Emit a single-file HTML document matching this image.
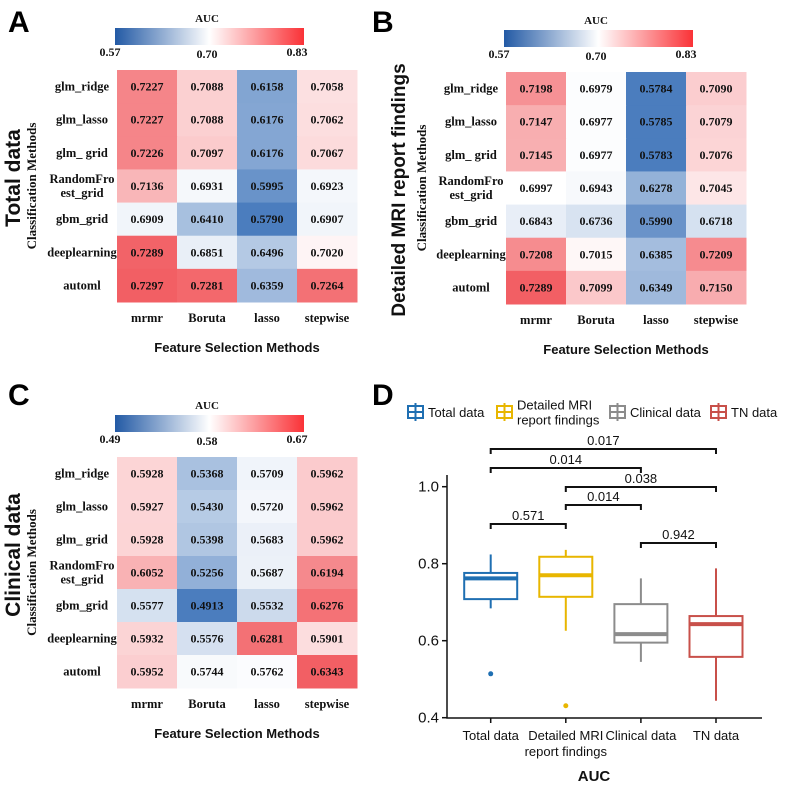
<!DOCTYPE html>
<html><head><meta charset="utf-8"><style>
body{margin:0;background:#fff}
svg{display:block}
.ser{font-family:"Liberation Serif",serif;font-weight:bold}
.san{font-family:"Liberation Sans",sans-serif}
</style></head><body>
<svg id="fig" width="788" height="788" viewBox="0 0 788 788">
<defs>
<linearGradient id="cbar" x1="0" x2="1" y1="0" y2="0">
<stop offset="0" stop-color="rgb(35,90,165)"/><stop offset="0.5" stop-color="#ffffff"/><stop offset="1" stop-color="rgb(250,50,55)"/>
</linearGradient>
</defs>
</svg>
<script>
const rowsA = ["glm_ridge","glm_lasso","glm_ grid","RandomFro|est_grid","gbm_grid","deeplearning","automl"];
const colsA = ["mrmr","Boruta","lasso","stepwise"];
const valuesA = [[0.7227,0.7088,0.6158,0.7058],[0.7227,0.7088,0.6176,0.7062],[0.7226,0.7097,0.6176,0.7067],[0.7136,0.6931,0.5995,0.6923],[0.6909,0.6410,0.5790,0.6907],[0.7289,0.6851,0.6496,0.7020],[0.7297,0.7281,0.6359,0.7264]];
const valuesB = [[0.7198,0.6979,0.5784,0.7090],[0.7147,0.6977,0.5785,0.7079],[0.7145,0.6977,0.5783,0.7076],[0.6997,0.6943,0.6278,0.7045],[0.6843,0.6736,0.5990,0.6718],[0.7208,0.7015,0.6385,0.7209],[0.7289,0.7099,0.6349,0.7150]];
const valuesC = [[0.5928,0.5368,0.5709,0.5962],[0.5927,0.5430,0.5720,0.5962],[0.5928,0.5398,0.5683,0.5962],[0.6052,0.5256,0.5687,0.6194],[0.5577,0.4913,0.5532,0.6276],[0.5932,0.5576,0.6281,0.5901],[0.5952,0.5744,0.5762,0.6343]];
const cbarTicksA = ["0.57","0.70","0.83"];
const cbarTicksB = ["0.57","0.70","0.83"];
const cbarTicksC = ["0.49","0.58","0.67"];
const midA = 0.70, midB = 0.70, midC = 0.578;

const groups = ["Total data","Detailed MRI|report findings","Clinical data","TN data"];
const whiskLow = [0.684,0.626,0.545,0.444];
const q1 = [0.708,0.714,0.595,0.558];
const medians = [0.762,0.770,0.617,0.643];
const q3 = [0.776,0.818,0.695,0.664];
const whiskHigh = [0.824,0.836,0.762,0.788];
const outliers = [[0.514],[0.431],[],[]];
const brackets = [[0,3,"0.017",449],[0,2,"0.014",468],[1,3,"0.038",487],[1,2,"0.014",505],[0,1,"0.571",524],[2,3,"0.942",543]];
const yTicks = [0.4,0.6,0.8,1.0];
const colors = ["#1f6fb2","#e8b600","#8c8c8c","#c8504a"];

const NS="http://www.w3.org/2000/svg";
const svg=document.getElementById('fig');
function mk(tag,attrs,parent,text){const e=document.createElementNS(NS,tag);for(const k in attrs)e.setAttribute(k,attrs[k]);if(text!==undefined)e.textContent=text;(parent||svg).appendChild(e);return e;}

function cellColor(v,mid,mn,mx){
  if(v<mid){const t=Math.min(1,(mid-v)/(mid-mn));return `rgb(${Math.round(255-t*180)},${Math.round(255-t*130)},${Math.round(255-t*65)})`;}
  const t=Math.min(1,(v-mid)/(mx-mid));return `rgb(${Math.round(255-t*13)},${Math.round(255-t*160)},${Math.round(255-t*155)})`;
}

function heatmap(cfg){
  const g=mk('g',{});
  
  
  const flat=cfg.values.flat();const mn=Math.min(...flat),mx=Math.max(...flat);
  const cw=(cfg.x1-cfg.x0)/cfg.cols.length, ch=(cfg.y1-cfg.y0)/cfg.rows.length;
  cfg.values.forEach((row,i)=>row.forEach((v,j)=>{
    const r=mk('rect',{x:cfg.x0+j*cw,y:cfg.y0+i*ch,width:cw+0.5,height:ch+0.5,fill:cellColor(v,cfg.mid,mn,mx)},g);
    
    
    const t=mk('text',{x:cfg.x0+(j+0.5)*cw,y:cfg.y0+(i+0.5)*ch+4,'text-anchor':'middle','font-size':12,class:'ser',fill:'#111'},g,v.toFixed(4));
    
    
  }));
  cfg.rows.forEach((lab,i)=>{
    const cy=cfg.y0+(i+0.5)*ch;const parts=lab.split('|');
    parts.forEach((p,k)=>{
      const t=mk('text',{x:cfg.x0-35,y:cy+4+(k-(parts.length-1)/2)*14,'text-anchor':'middle','font-size':12.5,class:'ser',fill:'#111'},g,p);
      
      
    });
  });
  cfg.cols.forEach((lab,j)=>{
    const t=mk('text',{x:cfg.x0+(j+0.5)*cw,y:cfg.y1+20,'text-anchor':'middle','font-size':12.5,class:'ser',fill:'#111'},g,lab);
    
    
  });
  const xt=mk('text',{x:(cfg.x0+cfg.x1)/2,y:cfg.y1+50,'text-anchor':'middle','font-size':13,'font-weight':'bold',class:'san',fill:'#111'},g,'Feature Selection Methods');
  
  
  const cb=mk('rect',{x:cfg.cbx,y:cfg.cby,width:189,height:17,fill:'url(#cbar)'},g);
  
  
  const ct=mk('text',{x:cfg.cbx+92,y:cfg.cby-6,'text-anchor':'middle','font-size':11,class:'ser',fill:'#111'},g,'AUC');
  
  
  cfg.ticks.forEach((tk,k)=>{
    const t=mk('text',{x:cfg.cbx+[0,92,182][k]-[5,0,0][k],y:cfg.cby+28+(k==1?2:0),'text-anchor':'middle','font-size':12,class:'ser',fill:'#111'},g,tk);
    
    
  });
  const yt=mk('text',{transform:`translate(${cfg.tx},${cfg.ty}) rotate(-90)`,'text-anchor':'middle','font-size':cfg.tfs,'font-weight':'bold',class:'san',fill:'#111'},g,cfg.title);
  
  
  const y2=mk('text',{transform:`translate(${cfg.cx},${(cfg.y0+cfg.y1)/2}) rotate(-90)`,'text-anchor':'middle','font-size':13,class:'ser',fill:'#111'},g,'Classification Methods');
  
  
  const L=mk('text',{x:cfg.lx,y:cfg.ly,'font-size':30,'font-weight':'bold',class:'san',fill:'#000'},g,cfg.letter);
  
  
}

heatmap({name:'heatmap-total',values:valuesA,rows:rowsA,cols:colsA,mid:midA,x0:117,x1:357,y0:70,y1:302,cbx:115,cby:28,ticks:cbarTicksA,title:'Total data',tx:20,ty:178,cx:36,tfs:21,letter:'A',lx:8,ly:32});
heatmap({name:'heatmap-mri',values:valuesB,rows:rowsA,cols:colsA,mid:midB,x0:506,x1:746,y0:72,y1:304,cbx:504,cby:30,ticks:cbarTicksB,title:'Detailed MRI report findings',tx:405,ty:190,cx:426,tfs:19,letter:'B',lx:372,ly:32});
heatmap({name:'heatmap-clinical',values:valuesC,rows:rowsA,cols:colsA,mid:midC,x0:117,x1:357,y0:457,y1:688,cbx:115,cby:415,ticks:cbarTicksC,title:'Clinical data',tx:20,ty:555,cx:36,tfs:21,letter:'C',lx:8,ly:405});

const D=mk('g',{});


const yS=v=>717.7-(v-0.4)*385;
const xS=i=>490.7+i*75.1;
const ax=mk('path',{d:`M447,475 V718 H762`,stroke:'#111','stroke-width':1.5,fill:'none'},D);


yTicks.forEach(v=>{
  mk('line',{x1:442,x2:447,y1:yS(v),y2:yS(v),stroke:'#111','stroke-width':1.5},D);
  const t=mk('text',{x:439,y:yS(v)+5,'text-anchor':'end','font-size':15,class:'san',fill:'#111'},D,v.toFixed(1));
  
  
});
groups.forEach((gname,i)=>{
  const x=xS(i),c=colors[i],w=53;
  mk('line',{x1:x,x2:x,y1:718,y2:723,stroke:'#111','stroke-width':1.5},D);
  gname.split('|').forEach((p,k)=>{
    const t=mk('text',{x:x,y:740+k*16,'text-anchor':'middle','font-size':13,class:'san',fill:'#111'},D,p);
    
    
  });
  const wk=mk('line',{x1:x,x2:x,y1:yS(whiskHigh[i]),y2:yS(whiskLow[i]),stroke:c,'stroke-width':2},D);
  
  
  const b=mk('rect',{x:x-w/2,y:yS(q3[i]),width:w,height:yS(q1[i])-yS(q3[i]),fill:'#fff',stroke:c,'stroke-width':2},D);
  
  
  const m=mk('line',{x1:x-w/2,x2:x+w/2,y1:yS(medians[i]),y2:yS(medians[i]),stroke:c,'stroke-width':4},D);
  
  
  outliers[i].forEach(o=>{
    const p=mk('circle',{cx:x,cy:yS(o),r:2.5,fill:c},D);
    
    
  });
});
brackets.forEach(([a,b,lab,y])=>{
  const p=mk('path',{d:`M${xS(a)},${y+5} V${y} H${xS(b)} V${y+5}`,stroke:'#111','stroke-width':2,fill:'none'},D);
  
  
  const t=mk('text',{x:(xS(a)+xS(b))/2,y:y-4,'text-anchor':'middle','font-size':13,class:'san',fill:'#111'},D,lab);
  
  
});
const at=mk('text',{x:594,y:781,'text-anchor':'middle','font-size':15,'font-weight':'bold',class:'san',fill:'#111'},D,'AUC');


const LD=mk('text',{x:372,y:405,'font-size':30,'font-weight':'bold',class:'san',fill:'#000'},D,'D');


const legX=[408,497,610,711];
groups.forEach((gname,i)=>{
  const x=legX[i],c=colors[i];
  const lg=mk('g',{},D);
  
  
  mk('rect',{x:x,y:406,width:15,height:12,fill:'none',stroke:c,'stroke-width':2},lg);
  mk('line',{x1:x,x2:x+15,y1:412,y2:412,stroke:c,'stroke-width':2},lg);
  mk('line',{x1:x+7.5,x2:x+7.5,y1:403,y2:421,stroke:c,'stroke-width':2},lg);
  const parts=gname.split('|');
  parts.forEach((p,k)=>{
    mk('text',{x:x+20,y:417+(k-(parts.length-1)/2)*15,'font-size':13,class:'san',fill:'#111'},lg,p);
  });
});
</script>
</body></html>
